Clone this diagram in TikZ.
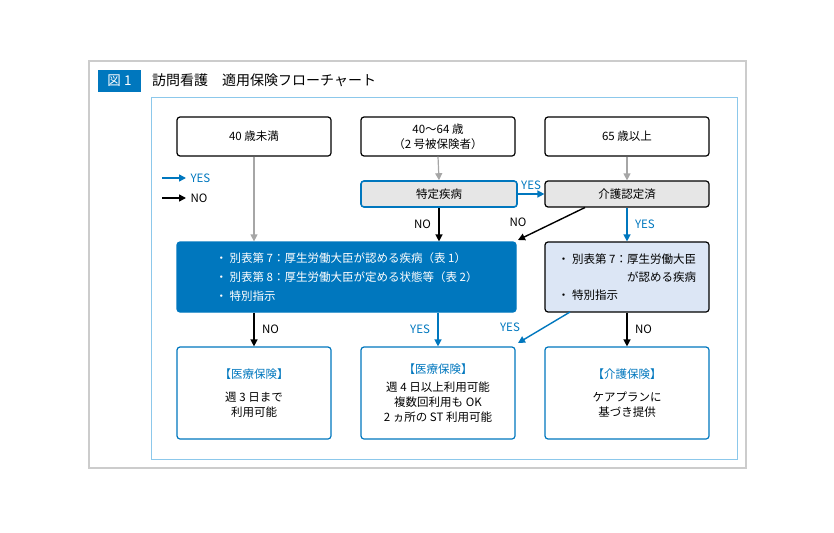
\documentclass[tikz,border=0pt]{standalone}
\usepackage{fontspec}
\setmainfont{Noto Sans CJK JP}
\usetikzlibrary{arrows.meta}
\definecolor{mblue}{RGB}{0,119,190}
\definecolor{lblue}{RGB}{220,230,245}
\definecolor{fgray}{RGB}{230,230,230}
\definecolor{fblue}{RGB}{140,200,235}
\begin{document}
\begin{tikzpicture}[x=1pt,y=-1pt,
 box/.style={draw=black,rounded corners=3pt,line width=1.2pt,fill=white,align=center,font=\fontsize{11.5}{15}\selectfont},
 ga/.style={draw=gray!70,line width=1.2pt,-{Triangle[width=7pt,length=7pt]}},
 ka/.style={draw=black,line width=1.4pt,-{Triangle[width=7pt,length=7pt]}},
 ba/.style={draw=mblue,line width=1.4pt,-{Triangle[width=7pt,length=7pt]}},
 lab/.style={font=\fontsize{11.5}{12}\selectfont}]
\useasboundingbox (0,0) rectangle (834,532);
\draw[gray!40,line width=1.2pt] (89,61) rectangle (746,468);
\node[fill=mblue,text=white,minimum width=43,minimum height=22,inner sep=0,font=\fontsize{13.5}{14}\selectfont] (fig) at (119.5,81) {図 1};
\node[anchor=west,font=\fontsize{14}{14}\selectfont,inner sep=0] (title) at (152,80) {訪問看護\quad 適用保険フローチャート};
\draw[fblue,line width=0.9pt] (151,97) rectangle (737,459);
% top boxes
\node[box,minimum width=154,minimum height=39] (a) at (254,136.5) {40 歳未満};
\node[box,minimum width=154,minimum height=39] (b) at (438,136.5) {40〜64 歳\\（2 号被保険者）};
\node[box,minimum width=164,minimum height=39] (c) at (627,136.5) {65 歳以上};
\node[box,draw=mblue,fill=fgray,line width=1.6pt,minimum width=156,minimum height=26] (d) at (439,194) {特定疾病};
\node[box,fill=fgray,minimum width=164,minimum height=26] (e) at (627,194) {介護認定済};
\node[box,draw=mblue,fill=mblue,text=white,minimum width=339,minimum height=70,align=left,font=\fontsize{11.5}{19}\selectfont] (f) at (346.5,277) {・ 別表第 7：厚生労働大臣が認める疾病（表 1）\\・ 別表第 8：厚生労働大臣が定める状態等（表 2）\\・ 特別指示};
\node[box,fill=lblue,minimum width=164,minimum height=70,align=left,font=\fontsize{11.5}{18}\selectfont] (g) at (627,277) {・ 別表第 7：厚生労働大臣\\\hfill が認める疾病\\・ 特別指示};
\node[box,draw=mblue,minimum width=154,minimum height=92] (h) at (254,393) {\textcolor{mblue}{【医療保険】}\\[8pt]週 3 日まで\\利用可能};
\node[box,draw=mblue,minimum width=154,minimum height=92] (i) at (438,393) {\textcolor{mblue}{【医療保険】}\\[3pt]週 4 日以上利用可能\\複数回利用も OK\\2 ヵ所の ST 利用可能};
\node[box,draw=mblue,minimum width=164,minimum height=92] (j) at (627,393) {\textcolor{mblue}{【介護保険】}\\[8pt]ケアプランに\\基づき提供};
% legend
\coordinate (l1) at (162,178); \coordinate (l2) at (186,178);
\coordinate (l3) at (162,198); \coordinate (l4) at (186,198);
\draw[ba] (l1) -- (l2); \node[lab,text=mblue,anchor=west] (ly) at (187,178) {YES};
\draw[ka] (l3) -- (l4); \node[lab,anchor=west] (ln) at (187,198) {NO};
% arrows
\draw[ga] (a.south) -- (a.south |- f.north) ;
\draw[ga] (b.south) -- (d.north);
\draw[ga] (c.south) -- (e.north);
\draw[ba] (d.east) -- (e.west) node[midway,above,lab,text=mblue] {YES};
\draw[ka] (d.south) -- (d.south |- f.north) node[midway,left=4pt,lab] {NO};
\coordinate (e1) at (585,207.5);
\coordinate (f1) at (518,240);
\draw[ka] (e1) -- (f1);
\node[lab] (nolab) at (518,222) {NO};
\draw[ba] (e.south) -- (e.south |- g.north) node[midway,right=4pt,lab,text=mblue] {YES};
\draw[ka] (h.north |- f.south) -- (h.north) node[midway,right=4pt,lab] {NO};
\draw[ba] (i.north |- f.south) -- (i.north) node[midway,left=4pt,lab,text=mblue] {YES};
\coordinate (g1) at (570,312);
\coordinate (i1) at (518,343);
\draw[ba] (g1) -- (i1);
\node[lab,text=mblue] (yl2) at (510,327) {YES};
\draw[ka] (j.north |- g.south) -- (j.north) node[midway,right=4pt,lab] {NO};
\end{tikzpicture}
\end{document}
